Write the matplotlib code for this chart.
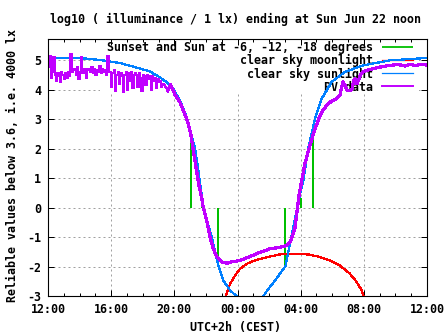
import numpy as np
import matplotlib
matplotlib.use("Agg")
import matplotlib.pyplot as plt
from matplotlib.ticker import MultipleLocator
from matplotlib.patches import Rectangle

plt.rcParams['font.family'] = ['DejaVu Sans Mono']
plt.rcParams['font.weight'] = 'bold'
plt.rcParams['font.size'] = 8.4
plt.rcParams['axes.unicode_minus'] = False

# time axis: hours after 12:00 (local, UTC+2h)
tick_hours = [0, 4, 8, 12, 16, 20, 24]
tick_labels = ["12:00", "16:00", "20:00", "00:00", "04:00", "08:00", "12:00"]
y_ticks = [-3, -2, -1, 0, 1, 2, 3, 4, 5]

# clear sky sunlight, log10(lx)
sun_t = [0.0, 2.03, 3.29, 4.56, 5.83, 6.46, 7.09, 7.54, 7.92, 8.36, 8.74, 9.04,
         9.31, 9.52, 9.84, 10.07, 10.37, 10.79, 11.1, 11.53, 11.97, 12.48, 13.1,
         13.64, 13.93, 14.38, 14.69, 15.03, 15.2, 15.39, 15.58, 15.77, 15.96,
         16.17, 16.48, 16.91, 17.33, 17.97, 18.81, 19.97, 21.66, 24.0]
sun_v = [5.08, 5.07, 5.0, 4.9, 4.71, 4.61, 4.41, 4.24, 4.03, 3.63, 3.12, 2.51,
         2.03, 1.25, 0.03, -0.44, -1.01, -1.97, -2.47, -2.81, -3.02, -3.3, -3.4,
         -3.0, -2.78, -2.47, -2.24, -2.0, -1.56, -1.05, -0.54, -0.03, 0.46,
         0.92, 2.0, 3.02, 3.69, 4.26, 4.6, 4.82, 4.99, 5.07]

# clear sky moonlight
moon_t = [11.2, 11.27, 11.53, 11.84, 12.16, 12.58, 13.22, 14.06, 14.69, 15.33,
          15.96, 16.59, 17.23, 17.86, 18.49, 19.13, 19.55, 19.87, 19.97, 20.01]
moon_v = [-3.15, -2.98, -2.59, -2.31, -2.08, -1.91, -1.77, -1.66, -1.59, -1.57,
          -1.57, -1.6, -1.68, -1.8, -1.97, -2.25, -2.53, -2.81, -2.98, -3.15]

# sunset / dusk / dawn / sunrise markers
event_t = [9.04, 9.73, 10.78, 15.03, 16.0, 16.8]
event_v = [2.45, 0.33, -1.95, -1.97, 0.33, 2.5]

# PV sensor, 5-minute samples from 12:00 to about 19:35
pv_day = [4.75, 5.15, 4.4, 4.6, 5.1,
          4.5, 4.3, 4.55, 4.45, 4.25, 4.6, 4.5, 4.35, 4.55, 4.4, 4.6, 4.45,
          5.2, 4.6,
          4.65, 4.7, 4.5, 4.75, 4.35, 4.6, 5.1, 4.55, 4.7, 4.65, 4.4, 4.7,
          4.65, 4.6, 4.75, 4.55, 4.7, 4.5, 4.65, 4.6, 4.8, 4.55, 4.7, 4.6,
          4.65, 4.5, 5.15, 4.6,
          4.6, 4.1, 4.55, 4.65, 3.95, 4.5, 4.6, 4.2, 4.55, 4.45, 3.9, 4.5,
          4.6, 4.0, 4.55, 4.3, 4.6, 4.05, 4.5, 4.55,
          4.5, 4.1, 4.55, 4.4, 3.95, 4.5, 4.45, 4.15, 4.5, 4.35, 4.45, 4.0,
          4.45, 4.3, 4.4, 4.05, 4.35, 4.25, 4.3, 4.1, 4.2, 4.15, 4.1, 4.05, 3.95]
pv_day_t = np.arange(len(pv_day)) * 5 / 60

# PV sensor, evening to next noon
pv_t = [7.76, 7.82, 8.04, 8.36, 8.57, 8.82, 9.04, 9.2, 9.37, 9.58, 9.73, 9.83,
        10.05, 10.26, 10.47, 10.68, 11.0, 11.32, 11.52, 11.73, 12.16, 12.79,
        13.11, 13.42, 13.74, 14.06, 14.69, 14.94, 15.12, 15.23, 15.32, 15.43,
        15.53, 15.64, 15.7, 15.81, 15.91, 16.07, 16.27, 16.53, 16.78, 16.97,
        17.16, 17.41, 17.65, 17.92, 18.28, 18.49, 18.59, 18.68, 18.81, 18.93,
        19.12, 19.25, 19.35, 19.44, 19.57, 19.66, 19.76, 19.95, 20.26, 20.58,
        21.02, 21.66, 22.16, 22.61, 22.92, 23.24, 23.56, 24.0]
pv_v = [4.17, 4.1, 3.83, 3.56, 3.29, 2.95, 2.5, 1.93, 1.37, 0.69, 0.34, 0.01,
        -0.44, -1.01, -1.4, -1.68, -1.85, -1.89, -1.86, -1.83, -1.8, -1.66,
        -1.59, -1.52, -1.46, -1.4, -1.35, -1.31, -1.29, -1.22, -1.18, -1.05,
        -0.89, -0.68, -0.44, 0.03, 0.46, 0.92, 1.49, 2.0, 2.45, 2.75,
        3.02, 3.29, 3.47, 3.59, 3.69, 3.81, 4.07, 4.26, 4.14, 3.98,
        3.97, 4.0, 4.3, 4.37, 4.2, 4.31, 4.47, 4.6, 4.66, 4.71,
        4.76, 4.82, 4.85, 4.8, 4.86, 4.81, 4.85, 4.83]

GREEN = '#00c000'
RED = '#ff0000'
BLUE = '#0080ff'
MAGENTA = '#c000ff'
GRID = '#a0a0a0'

fig = plt.figure(figsize=(4.47, 3.35), dpi=100)
ax = fig.add_axes([48 / 447, 1 - 296 / 335, 379 / 447, 257.5 / 335])

ax.set_xlim(0, 24)
ax.set_ylim(-3, 5.73)

# dotted grid, drawn by hand so the key background can cover it
for yv in y_ticks[1:]:
    ax.axhline(yv, color=GRID, lw=0.72, ls=(0, (2, 3)), zorder=1)
for xv in tick_hours[1:-1]:
    ax.axvline(xv, color=GRID, lw=0.72, ls=(0, (2, 3)), zorder=1)

# opaque key background
ax.add_patch(Rectangle((0.137, 0.792), 0.843, 0.208, transform=ax.transAxes,
                       facecolor='white', edgecolor='none', zorder=1.2))

ax.vlines(event_t, 0, event_v, colors=GREEN, lw=1.3, zorder=2,
          label='Sunset and Sun at -6, -12, -18 degrees', antialiased=False)
ax.plot(moon_t, moon_v, color=RED, lw=0.9, zorder=2.1,
        label='clear sky moonlight', antialiased=False)
ax.plot(sun_t, sun_v, color=BLUE, lw=0.9, zorder=2.2,
        label='clear sky sunlight', antialiased=False)
ax.step(pv_day_t, pv_day, where='post', color=MAGENTA, lw=1.4, zorder=2.3,
        label='PV data', antialiased=False)
ax.plot(np.r_[pv_day_t[-1], pv_t], np.r_[pv_day[-1], pv_v], color=MAGENTA,
        lw=1.6, zorder=2.3, antialiased=False)

ax.set_xticks(tick_hours)
ax.set_xticklabels(tick_labels)
ax.xaxis.set_minor_locator(MultipleLocator(1))
ax.set_yticks(y_ticks)
ax.set_yticklabels([str(v) for v in y_ticks])
ax.tick_params(which='both', direction='in', top=True, right=True, width=0.72)
ax.tick_params(which='major', length=4.3, pad=5)
ax.tick_params(which='minor', length=2.2)
for s in ax.spines.values():
    s.set_linewidth(0.8)

leg = ax.legend(loc='upper right', bbox_to_anchor=(0.963, 0.989),
                markerfirst=False, frameon=False, handlelength=2.66,
                handletextpad=0.77, labelspacing=0.0, borderaxespad=0,
                borderpad=0)
leg.set_zorder(1.5)

fig.text(235.5 / 447, 1 - 19 / 335,
         'log10 ( illuminance / 1 lx) ending at Sun Jun 22 noon',
         ha='center', va='center')
fig.text(236 / 447, 1 - 327 / 335, 'UTC+2h (CEST)', ha='center', va='center')
fig.text(13 / 447, 1 - 165 / 335, 'Reliable values below 3.6, i.e. 4000 lx',
         ha='center', va='center', rotation=90)

fig.savefig('out.png', dpi=100)
